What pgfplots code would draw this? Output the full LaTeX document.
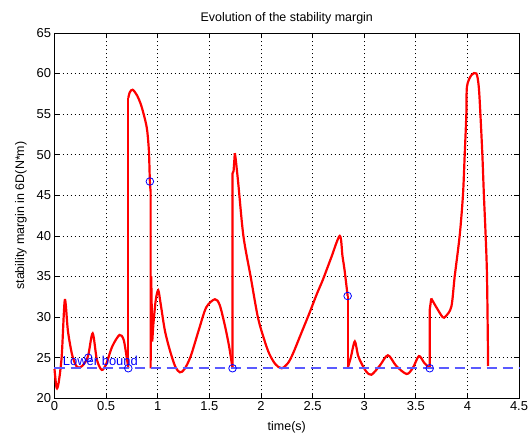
\documentclass[border=0pt]{standalone}
\usepackage{pgfplots}
\pgfplotsset{compat=1.18}
\usepackage{fontspec}
\setmainfont{Liberation Sans}
\definecolor{lbblue}{RGB}{90,90,255}
\begin{document}
\begin{tikzpicture}
\begin{axis}[
  name=ax,
  scale only axis,
  width=464.5bp, height=365.4bp,
  xmin=0, xmax=4.5, ymin=20, ymax=65,
  xtick={0,0.5,...,4.5}, ytick={20,25,...,65},
  xticklabels={0,0.5,1,1.5,2,2.5,3,3.5,4,4.5},
  tick pos=both, tick align=inside,
  major tick length=5bp,
  grid=major,
  major grid style={black, line width=0.6pt, dash pattern=on 0.9bp off 3.1bp},
  axis line style={black, line width=0.7pt},
  every tick/.style={black, line width=0.7pt},
  /pgf/number format/assume math mode=true,
  ticklabel style={font=\fontsize{13}{15}\selectfont},
  title={Evolution of the stability margin},
  title style={font=\fontsize{12.5}{14}\selectfont, yshift=-1bp},
  xlabel={time(s)},
  ylabel={stability margin in 6D(N*m)},
  label style={font=\fontsize{12.5}{14}\selectfont},
  xlabel style={yshift=-4bp},
  ylabel style={yshift=3bp},
  clip=false,
]
\addplot[red, line width=2.2pt, smooth, tension=0.5] coordinates {
 (0,23.6) (0.02,21.3) (0.04,21.9) (0.07,25.2) (0.1,32.1) (0.13,28.3) (0.17,25.4) (0.21,24.0) (0.247,23.8) (0.29,24.3) (0.327,25.3) (0.37,28.0) (0.41,24.8) (0.457,23.5) (0.5,24.2) (0.56,26.4) (0.63,27.8) (0.67,27.2) (0.70,25.0) (0.715,23.7)};
\addplot[red, line width=2.2pt] coordinates {(0.715,23.7) (0.715,57.0)};
\addplot[red, line width=2.2pt, smooth, tension=0.5] coordinates {
 (0.715,57.0) (0.73,57.7) (0.757,58.0) (0.80,57.3) (0.844,55.9) (0.893,53.4) (0.912,51) (0.918,49.3) (0.924,46.7) (0.931,45.5)};
\addplot[red, line width=2.2pt] coordinates {(0.931,45.5) (0.931,23.7) (0.937,35) (0.947,27) (0.957,29)};
\addplot[red, line width=2.2pt, smooth, tension=0.5] coordinates {
 (0.957,29) (0.98,32) (1.005,33.3) (1.03,31.5) (1.07,28.3) (1.118,25.9) (1.17,23.9) (1.215,23.2) (1.26,23.6) (1.32,25.2) (1.4,28.5) (1.47,31.2) (1.554,32.2) (1.6,31.5) (1.65,29) (1.69,26.5) (1.715,24.5) (1.725,23.7)};
\addplot[red, line width=2.2pt] coordinates {(1.725,23.7) (1.725,47.7) (1.735,48) (1.747,50.2)};
\addplot[red, line width=2.2pt, smooth, tension=0.5] coordinates {
 (1.747,50.2) (1.755,49.5) (1.78,46.5) (1.83,40) (1.90,35) (1.97,30) (2.03,27.3) (2.08,25.5) (2.14,24.2) (2.2,23.7) (2.26,24.3) (2.31,25.5) (2.39,28) (2.47,30.5) (2.54,32.8) (2.60,34.6) (2.68,37.3) (2.764,40) (2.79,37.5) (2.81,35.8) (2.84,32.6)};
\addplot[red, line width=2.2pt] coordinates {(2.84,32.6) (2.84,23.7)};
\addplot[red, line width=2.2pt, smooth, tension=0.5] coordinates {
 (2.84,23.7) (2.87,25) (2.909,27.0) (2.94,25.3) (2.974,24.3) (3.02,23.3) (3.07,22.9) (3.15,24) (3.23,25.3) (3.31,24) (3.41,23.0) (3.47,23.7) (3.53,25.2) (3.58,24.4) (3.635,23.7)};
\addplot[red, line width=2.2pt] coordinates {(3.635,23.7) (3.635,30.9) (3.65,32.3)};
\addplot[red, line width=2.2pt, smooth, tension=0.5] coordinates {
 (3.65,32.3) (3.7,31.2) (3.76,30.0) (3.79,30.1) (3.845,31.3) (3.877,35) (3.925,40) (3.957,45) (3.974,50) (3.99,55) (3.996,58.4) (4.039,59.8) (4.087,60.0) (4.11,58.4) (4.126,55) (4.145,50) (4.16,45) (4.177,40) (4.19,35) (4.2,25) (4.2,24.1)};
\addplot[lbblue, line width=1.6pt, dash pattern=on 10bp off 6bp] coordinates {(0,23.7) (4.5,23.7)};
\addplot[only marks, blue, mark=o, mark size=3.8bp, mark options={line width=0.8pt}] coordinates {
 (0.327,25.0) (0.715,23.7) (0.924,46.7) (1.725,23.7) (2.84,32.6) (3.635,23.7)};
\node[anchor=base west, text=blue, font=\fontsize{13}{15}\selectfont, inner sep=0pt] at (axis cs:0.08,24.0) {Lower bound};
\end{axis}
\pgfresetboundingbox
\path[use as bounding box] (ax.south west) ++(-54.5bp,-41.7bp) rectangle ++(528bp,440bp);
\end{tikzpicture}
\end{document}
